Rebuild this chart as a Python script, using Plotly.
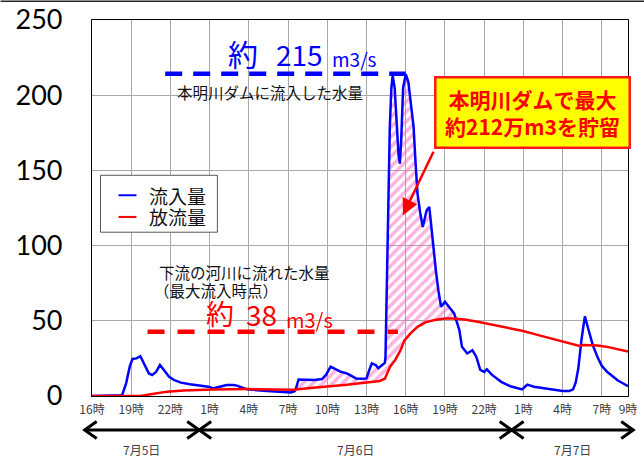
import numpy as np
import plotly.graph_objects as go

# ---------------- data (hours counted from 16:00 on 7/5) ----------------
inflow_h = [0, 1, 2.0, 2.3, 2.6, 2.9, 3.1, 3.4, 3.7, 4.0, 4.35, 4.6, 4.9, 5.2, 5.5, 5.9, 6.3, 6.8,
            7.5, 8.2, 8.9, 9.3, 9.8, 10.3, 10.8, 11.1, 11.5, 11.9, 13.4, 14.5, 15.2, 15.5, 15.6,
            15.8, 16.3, 17.0, 17.6, 17.9, 18.25, 18.6, 19.0, 19.5, 20.2, 20.6, 21.0, 21.2, 21.4,
            21.7, 21.9, 22.2, 22.4, 22.45, 22.6, 22.78, 22.9, 23.0, 23.15, 23.3, 23.45, 23.55,
            23.65, 23.8, 24.0, 24.2, 24.4, 24.6, 24.75, 24.9, 25.1, 25.3, 25.45, 25.6, 25.8, 26.0,
            26.3, 26.5, 26.7, 27.0, 27.3, 27.7, 28.1, 28.3, 28.7, 29.1, 29.4, 29.7, 30.0, 30.2,
            30.6, 31.3, 32.0, 32.9, 33.1, 33.3, 33.8, 34.4, 35.0, 36.0, 36.5, 36.8, 37.0, 37.2,
            37.45, 37.7, 38.0, 38.3, 38.7, 39.0, 39.4, 39.8, 40.2, 40.7, 41.0]
inflow = [0, 0, 0, 0.5, 8, 20, 24.6, 25, 26.5, 21, 15, 14, 16, 20.6, 17, 12.8, 10.5, 8.9,
          7.8, 7.2, 6.2, 5.1, 6, 7.3, 7.3, 6.9, 5.5, 4.4, 3.3, 2.8, 2.4, 3.2, 5,
          11, 10.8, 10.6, 11.3, 14, 19.5, 18, 16.2, 15, 11.7, 11.5, 11.7, 17, 21.7,
          20.6, 18.4, 20.6, 22, 26, 90, 179, 205, 213, 205, 180, 160, 154.5,
          170, 205, 214, 208.7, 195, 178.8, 155, 134.6, 122, 112.4, 118, 123.5, 125.7, 108,
          83.7, 70, 59.3, 62.6, 59.3, 54.9, 43.8, 32.7, 28.3, 30.5, 26, 17.3, 16, 17.7,
          14, 9.4, 6.5, 4.4, 6, 7.6, 6.2, 5.5, 4.6, 3.3, 3.3, 4.4, 9, 18.4,
          38, 52.9, 43.4, 34, 25.2, 20, 16.1, 13, 10.5, 8, 6.5]

outflow_h = [0, 3.7, 4.5, 5.75, 7.0, 8.0, 9.3, 11.9, 13.5, 15.4, 16.5, 18.0, 19.5, 21.0, 22.0,
             22.4, 22.8, 23.2, 23.6, 23.9, 24.4, 24.9, 25.5, 26.2, 27.0, 27.6, 28.5, 29.5,
             30.5, 31.5, 32.9, 34.0, 34.9, 36.0, 37.0, 37.3, 37.6, 38.2, 38.7, 39.5, 40.2, 41.0]
outflow = [0, 0, 1.2, 2.9, 3.6, 4.0, 4.4, 4.6, 4.5, 4.2, 5.2, 6.2, 7.5, 8.9, 10.0,
           11.5, 19.5, 24, 30.5, 37, 42, 46, 49, 50.5, 51.5, 51.6, 50.8, 49.3,
           47.5, 45.8, 43.4, 40.8, 38.8, 36.1, 33.8, 33.2, 33.9, 34.0, 33.6, 32.5, 31.3, 29.5]

tick_hours = [0, 3, 6, 9, 12, 15, 18, 21, 24, 27, 30, 33, 36, 39, 41]
tick_text = ["16時", "19時", "22時", "1時", "4時", "7時", "10時", "13時", "16時", "19時",
             "22時", "1時", "4時", "7時", "9時"]
y_ticks = [0, 50, 100, 150, 200, 250]

peak_in_level = 214.3
peak_in_span = [5.6, 24.0]
peak_out_level = 42.7
peak_out_span = [4.25, 23.4]
store_span = [15.2, 28.1]

day_labels = ["7月5日", "7月6日", "7月7日"]
day_bounds = [-0.56, 8.2, 32.1, 41.4]

X_MAX = 41
Y_MAX = 250

# ---------------- geometry (pixels) ----------------
FIG_W, FIG_H = 644, 459
L, R, T, B = 91.5, 628.0, 19.5, 396.0
PW, PH = R - L, B - T


def px_x(px):
    return (px - L) / PW


def px_y(py):
    return (B - py) / PH


def hx(h):
    return h / X_MAX


fig = go.Figure()

# hatched storage area (between inflow and outflow where inflow is higher)
hh = np.array([h for h in inflow_h if store_span[0] <= h <= store_span[1]])
bb = np.array([v for h, v in zip(inflow_h, inflow) if store_span[0] <= h <= store_span[1]])
rr = np.interp(hh, outflow_h, outflow)
upper = np.maximum(bb, rr)
poly_x = np.concatenate([hh, hh[::-1]])
poly_y = np.concatenate([upper, rr[::-1]])
fig.add_trace(go.Scatter(
    x=poly_x, y=poly_y, mode="none", fill="toself",
    fillcolor="rgba(0,0,0,0)",
    fillpattern=dict(shape="/", fgcolor="#ff66c4", bgcolor="rgba(255,255,255,0)",
                     size=7, solidity=0.5),
    hoverinfo="skip", showlegend=False))

fig.add_trace(go.Scatter(x=inflow_h, y=inflow, mode="lines", name="流入量",
                         line=dict(color="#0000ff", width=2.5), showlegend=False))
fig.add_trace(go.Scatter(x=outflow_h, y=outflow, mode="lines", name="放流量",
                         line=dict(color="#ff0000", width=2.5), showlegend=False))

fig.add_trace(go.Scatter(x=peak_in_span, y=[peak_in_level] * 2, mode="lines",
                         line=dict(color="#0000ff", width=4.5, dash="17px,11px"),
                         hoverinfo="skip", showlegend=False))
fig.add_trace(go.Scatter(x=peak_out_span, y=[peak_out_level] * 2, mode="lines",
                         line=dict(color="#ff0000", width=4.5, dash="17px,13px"),
                         hoverinfo="skip", showlegend=False))

shapes = []
annotations = []

# top border line of the picture
shapes.append(dict(type="line", xref="paper", yref="paper",
                   x0=px_x(0), x1=px_x(FIG_W), y0=px_y(0.75), y1=px_y(0.75),
                   line=dict(color="#262626", width=1.5)))

# manual legend
shapes.append(dict(type="rect", xref="paper", yref="paper",
                   x0=px_x(100), x1=px_x(217), y0=px_y(175), y1=px_y(232),
                   line=dict(color="#595959", width=1), fillcolor="white", layer="above"))
for yy, col, lab in [(195, "#0000ff", "流入量"), (216.7, "#ff0000", "放流量")]:
    shapes.append(dict(type="line", xref="paper", yref="paper",
                       x0=px_x(118), x1=px_x(136), y0=px_y(yy), y1=px_y(yy),
                       line=dict(color=col, width=2), layer="above"))
    annotations.append(dict(text=lab, xref="paper", yref="paper", x=px_x(148), y=px_y(yy),
                            xanchor="left", yanchor="middle", showarrow=False, borderpad=0,
                            font=dict(family="Noto Sans CJK JP", size=19, color="#111111")))

# date arrows under the axis
AY = 430
stroke = dict(color="#000000", width=3)
shapes.append(dict(type="line", xref="paper", yref="paper",
                   x0=hx(day_bounds[0]), x1=hx(day_bounds[-1]), y0=px_y(AY), y1=px_y(AY),
                   line=stroke))
HX, HY = 12 / PW, 8.5 / PH


def chevron(xp, direction):
    # direction -1: "<" tip at xp ; +1: ">" tip at xp
    x_back = xp - direction * HX
    return (f"M {x_back},{px_y(AY) + HY} L {xp},{px_y(AY)} L {x_back},{px_y(AY) - HY}")


for i, b in enumerate(day_bounds):
    xp = hx(b)
    if i > 0:
        shapes.append(dict(type="path", xref="paper", yref="paper", path=chevron(xp, 1), line=stroke))
    if i < len(day_bounds) - 1:
        shapes.append(dict(type="path", xref="paper", yref="paper", path=chevron(xp, -1), line=stroke))
for i, lab in enumerate(day_labels):
    mid = (day_bounds[i] + day_bounds[i + 1]) / 2
    annotations.append(dict(text=lab, xref="paper", yref="paper", x=hx(mid), y=px_y(450),
                            xanchor="center", yanchor="middle", showarrow=False,
                            font=dict(family="Noto Sans CJK JP", size=12, color="#404040")))

# peak inflow / outflow labels
annotations += [
    dict(text="約", x=px_x(227), y=px_y(52.5), font=dict(size=30, color="#0000ff")),
    dict(text="215", x=px_x(275), y=px_y(54), font=dict(size=28, color="#0000ff")),
    dict(text="m3/s", x=px_x(331), y=px_y(58.5), font=dict(size=19, color="#0000ff")),
    dict(text="本明川ダムに流入した水量", x=px_x(176), y=px_y(91.7),
         font=dict(size=15.5, color="#111111")),
    dict(text="下流の河川に流れた水量", x=px_x(158), y=px_y(271.7),
         font=dict(size=15.5, color="#111111")),
    dict(text="（最大流入時点）", x=px_x(153), y=px_y(290.2),
         font=dict(size=15.5, color="#111111")),
    dict(text="約", x=px_x(205), y=px_y(313), font=dict(size=28, color="#ff0000")),
    dict(text="38", x=px_x(245), y=px_y(314), font=dict(size=28, color="#ff0000")),
    dict(text="m3/s", x=px_x(285), y=px_y(319), font=dict(size=20, color="#ff0000")),
]
for a in annotations[-9:]:
    a.update(xref="paper", yref="paper", xanchor="left", yanchor="middle", showarrow=False,
             borderpad=0)
    a["font"]["family"] = "Noto Sans CJK JP"

# callout box
annotations.append(dict(
    text="<b>本明川ダムで最大</b><br><b>約212万m3を貯留</b>",
    xref="paper", yref="paper", x=px_x(532), y=px_y(111.7),
    xanchor="center", yanchor="middle", showarrow=False,
    width=190, height=66, bgcolor="#ffff00", bordercolor="#ff1a1a", borderwidth=2.5,
    borderpad=1, align="center",
    font=dict(family="Noto Sans CJK JP", size=21, color="#ff0000")))
# callout arrow
annotations.append(dict(
    text="", xref="paper", yref="paper", x=px_x(402.7), y=px_y(215),
    ax=434 - 402.7, ay=150 - 215, showarrow=True, arrowhead=2, arrowsize=1.3,
    arrowwidth=2.5, arrowcolor="#ff0000", standoff=0))

fig.update_layout(
    width=FIG_W, height=FIG_H,
    margin=dict(l=L, r=FIG_W - R, t=T, b=FIG_H - B, pad=0, autoexpand=False),
    paper_bgcolor="white", plot_bgcolor="white",
    showlegend=False,
    shapes=shapes, annotations=annotations,
    xaxis=dict(range=[0, X_MAX], tickmode="array", tickvals=tick_hours, ticktext=tick_text,
               showgrid=True, gridcolor="#a8a8a8", gridwidth=1.2, zeroline=False,
               showline=True, linecolor="#000000", linewidth=1.2, mirror=True,
               ticks="", ticklabelstandoff=2, automargin=False,
               tickfont=dict(family="Noto Sans CJK JP", size=12, color="#404040")),
    yaxis=dict(range=[0, Y_MAX], tickmode="array", tickvals=y_ticks,
               showgrid=True, gridcolor="#a8a8a8", gridwidth=1.2, zeroline=False,
               showline=True, linecolor="#000000", linewidth=1.2, mirror=True,
               ticks="", ticklabelstandoff=23, automargin=False,
               tickfont=dict(family="Lato", size=27, color="#000000")),
)

fig.write_html(
    "out.html",
    config={"displayModeBar": False},
    post_script="document.body.style.margin='0';document.body.style.padding='0';"
                "document.body.style.overflow='hidden';",
)
